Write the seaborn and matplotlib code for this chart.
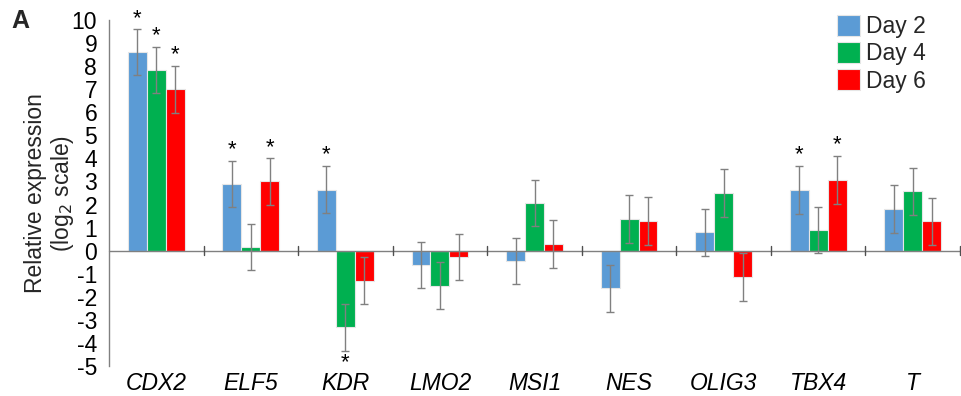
import matplotlib
matplotlib.use("Agg")
import matplotlib.pyplot as plt
import seaborn as sns
import pandas as pd
import numpy as np

genes = ["CDX2", "ELF5", "KDR", "LMO2", "MSI1", "NES", "OLIG3", "TBX4", "T"]
days = ["Day 2", "Day 4", "Day 6"]
day2 = [8.6, 2.9, 2.65, -0.63, -0.45, -1.64, 0.79, 2.64, 1.82]
day4 = [7.85, 0.17, -3.32, -1.53, 2.06, 1.37, 2.51, 0.91, 2.57]
day6 = [7.0, 3.0, -1.30, -0.27, 0.29, 1.28, -1.15, 3.07, 1.27]
err2 = [1.0, 1.0, 1.02, 1.0, 1.0, 1.03, 1.0, 1.03, 1.04]
err4 = [1.0, 1.0, 1.02, 1.02, 1.0, 1.04, 1.03, 1.0, 1.03]
err6 = [1.02, 1.0, 1.02, 1.0, 1.04, 1.03, 1.04, 1.03, 1.01]
star2 = [True, True, True, False, False, False, False, True, False]
star4 = [True, False, True, False, False, False, False, False, False]
star6 = [True, True, False, False, False, False, False, True, False]
yticks = list(range(-5, 11))
colors = ["#5B9BD5", "#00B050", "#FF0000"]

sns.set_theme(style="white")
plt.rcParams["font.family"] = ["Liberation Sans", "DejaVu Sans"]

df = pd.DataFrame({
    "gene": genes * 3,
    "day": [d for d in days for _ in genes],
    "value": day2 + day4 + day6,
    "err": err2 + err4 + err6,
    "star": star2 + star4 + star6,
})

FS = 16.5

fig = plt.figure(figsize=(9.61, 3.96), dpi=100)
ax = fig.add_axes([109 / 961, 30 / 396, 851 / 961, 346 / 396])

sns.barplot(data=df, x="gene", y="value", hue="day", order=genes, hue_order=days,
            palette=colors, width=0.6, errorbar=None, edgecolor="#e6e6e6",
            linewidth=0.8, ax=ax, saturation=1)

# error bars and stars at bar centres (positions from seaborn's layout)
bars = ax.patches[:len(df)]
for i, p in enumerate(bars):
    row = df.iloc[i]
    xc = p.get_x() + p.get_width() / 2
    v = row["value"]
    e = row["err"]
    ax.errorbar(xc, v, yerr=e, fmt="none", ecolor="#808080", elinewidth=1.0,
                capsize=3, capthick=1.0, zorder=3)
    if row["star"]:
        if v >= 0:
            ax.text(xc, v + e + 0.02, "*", ha="center", va="bottom", fontsize=16, color="black")
        else:
            ax.text(xc, v - e - 0.04, "*", ha="center", va="top", fontsize=16, color="black")

ax.set_xlim(-0.5, len(genes) - 0.5)
ax.set_ylim(-5, 10)
ax.set_yticks(yticks)
ax.set_yticklabels([str(t) for t in yticks], fontsize=FS)
ax.set_xticks(range(len(genes)))
ax.set_xticklabels(genes, fontsize=FS, style="italic")
ax.tick_params(axis="x", length=0, pad=4, colors="black")
ax.tick_params(axis="y", direction="inout", length=13, width=1, color="#808080", pad=2, labelcolor="black")
ax.set_xlabel("")
ax.set_ylabel("Relative expression\n(log$_2$ scale)", fontsize=FS, linespacing=1.1, labelpad=-3)

for s in ["top", "right", "bottom"]:
    ax.spines[s].set_visible(False)
ax.spines["left"].set_color("#808080")
ax.spines["left"].set_linewidth(1)

# zero line with group separators
ax.axhline(0, color="#808080", lw=1, zorder=4, clip_on=False)
for b in np.arange(0.5, len(genes), 1.0):
    ax.plot([b, b], [-0.2, 0.2], color="#505050", lw=1, zorder=4, clip_on=False)

ax.legend(title=None, frameon=False, fontsize=FS, loc="upper left",
          bbox_to_anchor=(837 / 961, 1 - 15 / 396), bbox_transform=fig.transFigure,
          borderpad=0, borderaxespad=0, handlelength=1.0, handleheight=1.0,
          labelspacing=0.18, handletextpad=0.25)

fig.text(11 / 961, 1 - 9 / 396, "A", fontsize=18, fontweight="bold", ha="left", va="top")

fig.savefig("out.png", dpi=100)
